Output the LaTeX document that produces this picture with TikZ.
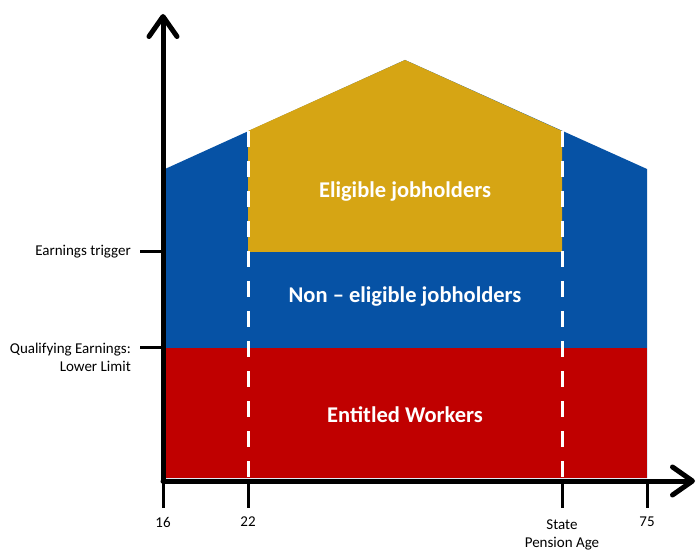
\documentclass[tikz,border=0pt]{standalone}
\usepackage{fontspec}
\setmainfont{Carlito}
\usetikzlibrary{arrows.meta, positioning}
\definecolor{poolblue}{RGB}{6,82,165}
\definecolor{poolgold}{RGB}{214,165,20}
\definecolor{poolred}{RGB}{192,0,0}
\tikzstyle{bandlabel} = [
    text=white, inner sep=0pt,
    font=\bfseries\fontsize{22.5}{26}\selectfont
]
\tikzstyle{ticklabel} = [
    inner sep=0pt,
    font=\fontsize{15}{18}\selectfont
]
\tikzstyle{axis} = [line width=5pt, line cap=round, -{Straight Barb[length=20pt,width=28pt,round]}]
\tikzstyle{tickmark} = [line width=3pt]
\tikzstyle{agegap} = [white, line width=3pt, dash pattern=on 16pt off 14pt]

\begin{document}
\begin{tikzpicture}[x=1pt, y=-1pt]
        \useasboundingbox (0,0) rectangle (699,553);
        % Key points
        \coordinate (origin) at (163,481);
        \coordinate (ytip) at (163,14);
        \coordinate (xtip) at (695,481);
        \coordinate (trig) at (163,252);
        \coordinate (qual) at (163,348);
        \coordinate (t16) at (163,481);
        \coordinate (t22) at (248,481);
        \coordinate (tspa) at (562,481);
        \coordinate (t75) at (647,481);

        % Draw bands
        \fill [poolblue] (165,169) -- (405,60) -- (647,169) -- (647,478) -- (165,478) -- cycle;
        \fill [poolgold] (248,131) -- (405,60) -- (562,131) -- (562,252) -- (248,252) -- cycle;
        \fill [poolred] (165,348) rectangle (647,478);
        \draw [agegap] (248,131) -- (248,478);
        \draw [agegap] (562,131) -- (562,478);

        % Band labels
        \node (eligible) [bandlabel] at (405,192) {Eligible jobholders};
        \node (noneligible) [bandlabel] at (405,297) {Non -- eligible jobholders};
        \node (entitled) [bandlabel] at (405,415) {Entitled Workers};

        % Draw axes
        \draw [axis] (origin) -- (ytip);
        \draw [axis] (origin) -- (xtip);

        % Draw ticks
        \foreach \c in {trig, qual} {
            \draw [tickmark] (\c) -- ++(-23,0) coordinate (\c-end);
        }
        \foreach \c in {t16, t22, tspa, t75} {
            \draw [tickmark] (\c) -- ++(0,27) coordinate (\c-end);
        }

        % Tick labels
        \node (ltrig) [ticklabel, left=9pt of trig-end] {Earnings trigger};
        \node (lqual) [ticklabel, align=right, anchor=north east] at ([xshift=-9pt, yshift=5pt]qual-end) {Qualifying Earnings:\\Lower Limit};
        \node (l16) [ticklabel, below=9pt of t16-end] {16};
        \node (l22) [ticklabel, below=9pt of t22-end] {22};
        \node (lspa) [ticklabel, align=center, below=12pt of tspa-end] {State\\Pension Age};
        \node (l75) [ticklabel, below=9pt of t75-end] {75};
    \end{tikzpicture}
\end{document}
